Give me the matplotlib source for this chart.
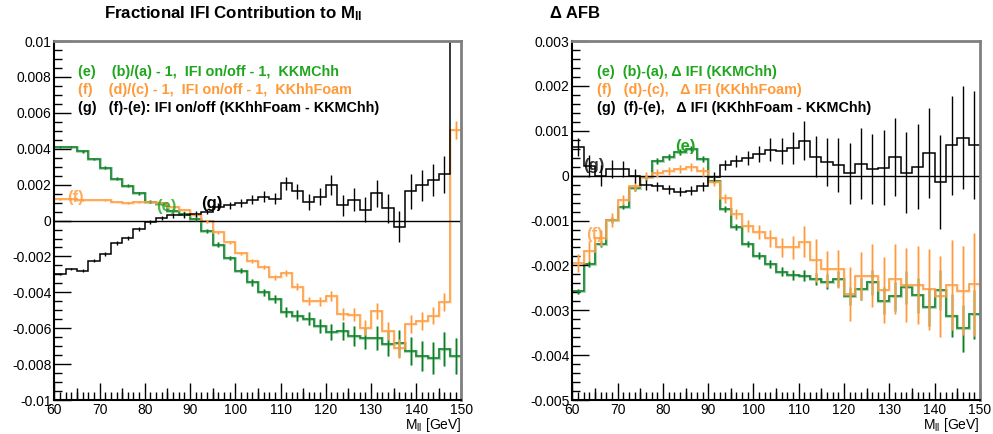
import numpy as np
import matplotlib
matplotlib.use('Agg')
import matplotlib.pyplot as plt
from matplotlib.ticker import MultipleLocator, FuncFormatter

plt.rcParams['font.family'] = ['Liberation Sans', 'DejaVu Sans']
plt.rcParams['mathtext.fontset'] = 'custom'
plt.rcParams['mathtext.rm'] = 'Liberation Sans'
plt.rcParams['mathtext.bf'] = 'Liberation Sans:bold'
plt.rcParams['mathtext.it'] = 'Liberation Sans:italic'

# M_ll bins: 60-150 GeV, 36 bins of 2.5 GeV
m_lo, m_hi, n_bins = 60.0, 150.0, 36

# ---- left: fractional IFI contribution ----
e_left = [0.00412, 0.00408, 0.00385, 0.00342, 0.00295, 0.00233, 0.00193, 0.00151, 0.00105,
          0.00093, 0.00056, 0.00037, 0.00008, -0.00056, -0.00134, -0.00209, -0.0028, -0.00345,
          -0.004, -0.00438, -0.00509, -0.00531, -0.00546, -0.00587, -0.0062, -0.00615, -0.00643,
          -0.00656, -0.00656, -0.00686, -0.00684, -0.00727, -0.00755, -0.00764, -0.00717, -0.00756]
e_err_left = [0.00006, 0.00006, 0.00006, 0.00007, 0.00007, 0.00007, 0.00008, 0.00008, 0.00008,
              0.00009, 0.00009, 0.0001, 0.0001, 0.00011, 0.00012, 0.00013, 0.00015, 0.00017,
              0.0002, 0.00022, 0.00026, 0.0003, 0.00035, 0.0004, 0.00045, 0.0005, 0.00055,
              0.0006, 0.00066, 0.0007, 0.00075, 0.0008, 0.00085, 0.0009, 0.00095, 0.001]
f_left = [0.00121, 0.00121, 0.00115, 0.00117, 0.00112, 0.00106, 0.00097, 0.00104, 0.00106,
          0.00097, 0.00075, 0.0006, 0.0003, -0.00004, -0.00065, -0.00121, -0.00183, -0.00224,
          -0.00257, -0.00317, -0.00294, -0.00369, -0.00447, -0.00451, -0.00419, -0.00522, -0.00525,
          -0.00596, -0.00503, -0.00615, -0.00712, -0.00574, -0.00559, -0.00531, -0.00453, 0.00503]
f_err_left = [0.00004, 0.00004, 0.00004, 0.00004, 0.00004, 0.00005, 0.00005, 0.00005, 0.00005,
              0.00006, 0.00006, 0.00006, 0.00007, 0.00007, 0.00008, 0.00009, 0.0001, 0.00011,
              0.00012, 0.00014, 0.00016, 0.00019, 0.00022, 0.00025, 0.00028, 0.00032, 0.00036,
              0.0004, 0.00044, 0.00048, 0.00052, 0.0005, 0.0005, 0.00048, 0.0005, 0.0005]
g_left = [-0.00298, -0.0027, -0.0028, -0.00224, -0.00186, -0.00125, -0.00097, -0.00047, -0.0001,
          0.00013, 0.0003, 0.00031, 0.00037, 0.0005, 0.00078, 0.00086, 0.00097, 0.00116,
          0.00134, 0.00121, 0.00209, 0.00162, 0.00102, 0.00134, 0.00199, 0.00084, 0.00117,
          0.0006, 0.00153, 0.00069, -0.00034, 0.00162, 0.00196, 0.00227, 0.00257, 0.0126]
g_err_left = [0.00008, 0.00008, 0.00008, 0.00009, 0.00009, 0.0001, 0.0001, 0.00011, 0.00011,
              0.00012, 0.00013, 0.00014, 0.00015, 0.00016, 0.00018, 0.0002, 0.00022, 0.00025,
              0.00028, 0.00031, 0.00036, 0.0004, 0.00044, 0.00048, 0.00055, 0.0006, 0.00065,
              0.0007, 0.00075, 0.0008, 0.00085, 0.00095, 0.00088, 0.0009, 0.00105, 0.0011]

# ---- right: delta AFB ----
e_right = [-0.00258, -0.00197, -0.00152, -0.00099, -0.00069, -0.00028, -0.00004, 0.00033, 0.00042,
           0.00053, 0.0006, 0.00037, -0.00011, -0.00074, -0.00114, -0.00152, -0.00178, -0.00197,
           -0.00214, -0.00221, -0.00223, -0.0023, -0.00236, -0.0023, -0.00268, -0.00252, -0.00238,
           -0.00279, -0.00269, -0.00249, -0.00267, -0.00292, -0.00255, -0.00312, -0.0034, -0.00309]
e_err_right = [0.00006, 0.00006, 0.00006, 0.00006, 0.00006, 0.00006, 0.00006, 0.00006, 0.00006,
               0.00006, 0.00006, 0.00006, 0.00006, 0.00006, 0.00007, 0.00007, 0.00008, 0.00009,
               0.0001, 0.00011, 0.00012, 0.00014, 0.00016, 0.00018, 0.00021, 0.00024, 0.00027,
               0.0003, 0.00033, 0.00036, 0.00039, 0.00042, 0.00045, 0.00048, 0.00052, 0.00055]
f_right = [-0.00195, -0.00168, -0.00139, -0.00099, -0.00054, -0.00024, -0.00002, 0.00005, 0.0001,
           0.00014, 0.00019, 0.0001, -0.00013, -0.0005, -0.00085, -0.00112, -0.00125, -0.00139,
           -0.0016, -0.0016, -0.00147, -0.00189, -0.00208, -0.00208, -0.00263, -0.00223, -0.00223,
           -0.00255, -0.00231, -0.00243, -0.00243, -0.00253, -0.00269, -0.00243, -0.00256, -0.00242]
f_err_right = [0.0002, 0.00022, 0.00018, 0.00016, 0.00012, 0.0001, 0.0001, 0.00009, 0.00009,
               0.00009, 0.00009, 0.0001, 0.0001, 0.0001, 0.00011, 0.00013, 0.00016, 0.00019,
               0.00022, 0.00026, 0.00035, 0.00048, 0.0004, 0.00043, 0.0006, 0.00053, 0.0007,
               0.00074, 0.00078, 0.00082, 0.00087, 0.0009, 0.00091, 0.001, 0.001, 0.00115]
g_right = [0.00063, 0.00022, 0.0, 0.00014, 0.00014, -0.00001, -0.00021, -0.00024, -0.0003,
           -0.00036, -0.00034, -0.00024, -0.00002, 0.00024, 0.00033, 0.00039, 0.00048, 0.00058,
           0.00055, 0.00062, 0.00078, 0.00042, 0.00031, 0.00024, 0.00005, 0.00027, 0.00015,
           0.00018, 0.00042, 0.00007, 0.0002, 0.00051, -0.00014, 0.00068, 0.00085, 0.00068]
g_err_right = [0.0002, 0.00025, 0.00024, 0.0002, 0.00018, 0.00015, 0.00012, 0.0001, 0.0001,
               0.0001, 0.0001, 0.0001, 0.0001, 0.00011, 0.00013, 0.00015, 0.00018, 0.00026,
               0.0003, 0.00035, 0.00043, 0.00046, 0.00054, 0.0006, 0.00067, 0.0008, 0.00077,
               0.00083, 0.00087, 0.00091, 0.00095, 0.001, 0.00105, 0.0011, 0.00114, 0.0012]

GREEN = '#0b7f22'
GREEN_TXT = '#1fa61f'
ORANGE = '#ff9a3a'
BLACK = '#000000'

edges = np.linspace(m_lo, m_hi, n_bins + 1)
centers = 0.5 * (edges[:-1] + edges[1:])


def draw_hist(ax, vals, errs, color, halo=None):
    if halo is not None:
        ax.stairs(vals, edges, color=halo, lw=2.2, alpha=0.4, baseline=None)
        ax.errorbar(centers, vals, yerr=errs, fmt='none', ecolor=halo, elinewidth=2.2, alpha=0.4)
    ax.stairs(vals, edges, color=color, lw=1.1, baseline=None)
    ax.errorbar(centers, vals, yerr=errs, fmt='none', ecolor=color, elinewidth=1.0)


def fmt(v, p):
    s = '%g' % round(v, 6)
    return '0' if s == '-0' else s


def style_axes(ax, ylim, ymaj, ymin):
    ax.set_xlim(m_lo, m_hi)
    ax.set_ylim(*ylim)
    ax.xaxis.set_major_locator(MultipleLocator(10))
    ax.xaxis.set_minor_locator(MultipleLocator(1.25))
    ax.yaxis.set_major_locator(MultipleLocator(ymaj))
    ax.yaxis.set_minor_locator(MultipleLocator(ymin))
    ax.yaxis.set_major_formatter(FuncFormatter(fmt))
    ax.tick_params(which='major', direction='in', length=12, width=1, top=False, right=False,
                   labelsize=10, pad=2)
    ax.tick_params(which='minor', direction='in', length=6, width=1, top=False, right=False)
    # medium ticks at the 5's
    sec = ax.secondary_xaxis('bottom')
    sec.set_xticks(np.arange(65, 150, 10))
    sec.tick_params(direction='in', length=9, width=1, labelbottom=False)
    sec.spines['bottom'].set_visible(False)
    for s in ['left', 'bottom']:
        ax.spines[s].set_linewidth(1.5)
    for s in ['top', 'right']:
        ax.spines[s].set_color('#808080')
        ax.spines[s].set_linewidth(2.0)
    ax.axhline(0, color='black', lw=1.0)


fig = plt.figure(figsize=(9.93, 4.34), dpi=100)
ax1 = fig.add_axes([0.0547, 0.0783, 0.410, 0.827])
ax2 = fig.add_axes([0.5763, 0.0783, 0.4106, 0.827])

style_axes(ax1, (-0.01, 0.01), 0.002, 0.0005)
style_axes(ax2, (-0.005, 0.003), 0.001, 0.0002)

draw_hist(ax1, e_left, e_err_left, GREEN, halo='#3d9a55')
draw_hist(ax1, f_left, f_err_left, ORANGE, halo='#ffc48a')
draw_hist(ax1, g_left, g_err_left, BLACK)

draw_hist(ax2, e_right, e_err_right, GREEN, halo='#3d9a55')
draw_hist(ax2, f_right, f_err_right, ORANGE, halo='#ffc48a')
draw_hist(ax2, g_right, g_err_right, BLACK)

# curve labels
ax1.text(64.6, 0.0013, '(f)', color=ORANGE, fontsize=12, fontweight='bold', ha='center', va='center', alpha=0.8)
ax1.text(84.7, 0.0008, '(e)', color=GREEN_TXT, fontsize=12, fontweight='bold', ha='center', va='center', alpha=0.8)
ax1.text(94.9, 0.00097, '(g)', color=BLACK, fontsize=12, fontweight='bold', ha='center', va='center')
ax2.text(84.9, 0.00066, '(e)', color=GREEN_TXT, fontsize=12, fontweight='bold', ha='center', va='center')
ax2.text(64.8, 0.00022, '(g)', color=BLACK, fontsize=12, fontweight='bold', ha='center', va='center', alpha=0.8)
ax2.text(64.8, -0.0013, '(f)', color=ORANGE, fontsize=12, fontweight='bold', ha='center', va='center', alpha=0.8)

# legend lines
leg_y = [0.834, 0.793, 0.751]
leg_fs = 10.4
fig.text(0.0785, leg_y[0], '(e)    (b)/(a) - 1,  IFI on/off - 1,  KKMChh', color=GREEN_TXT,
         fontsize=leg_fs, fontweight='bold', va='center')
fig.text(0.0785, leg_y[1], '(f)    (d)/(c) - 1,  IFI on/off - 1,  KKhhFoam', color=ORANGE,
         fontsize=leg_fs, fontweight='bold', va='center')
fig.text(0.0785, leg_y[2], '(g)   (f)-(e): IFI on/off (KKhhFoam - KKMChh)', color=BLACK,
         fontsize=leg_fs, fontweight='bold', va='center')
fig.text(0.601, leg_y[0], '(e)  (b)-(a), \u0394 IFI (KKMChh)', color=GREEN_TXT,
         fontsize=leg_fs, fontweight='bold', va='center')
fig.text(0.601, leg_y[1], '(f)   (d)-(c),   \u0394 IFI (KKhhFoam)', color=ORANGE,
         fontsize=leg_fs, fontweight='bold', va='center')
fig.text(0.601, leg_y[2], '(g)  (f)-(e),   \u0394 IFI (KKhhFoam - KKMChh)', color=BLACK,
         fontsize=leg_fs, fontweight='bold', va='center')

# titles
fig.text(0.235, 0.968, r'Fractional IFI Contribution to M$_{\mathbf{ll}}$', fontsize=12.2,
         fontweight='bold', ha='center', va='center')
fig.text(0.554, 0.968, '\u0394 AFB', fontsize=12, fontweight='bold', ha='left', va='center')

# x axis titles
for ax in (ax1, ax2):
    ax.text(1.0, -0.08, r'M$_{\rm ll}$ [GeV]', transform=ax.transAxes, ha='right',
            va='baseline', fontsize=10)

fig.savefig('out.png', dpi=100)
